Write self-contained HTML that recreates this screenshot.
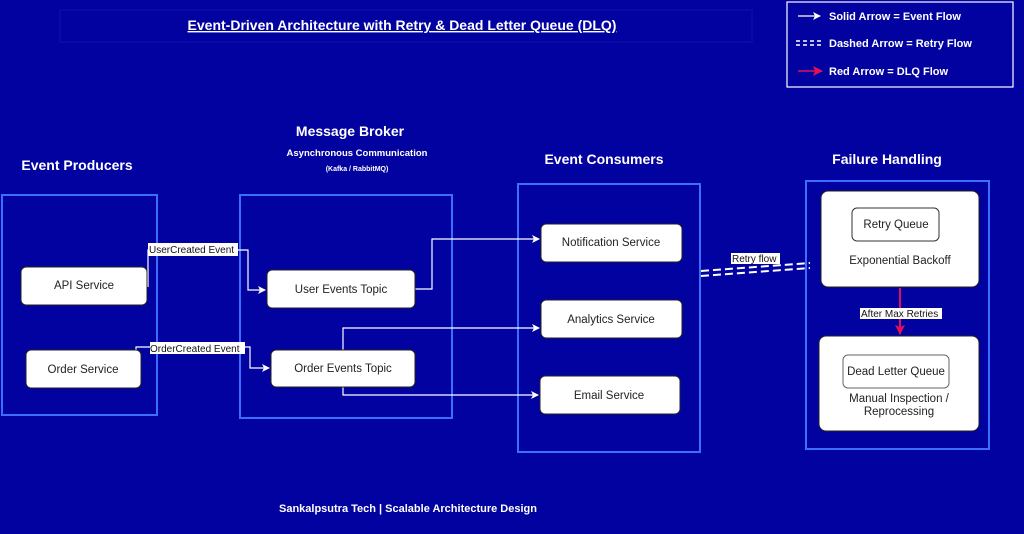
<!DOCTYPE html>
<html><head><meta charset="utf-8"><style>
html,body{margin:0;padding:0;background:#0202a0;}
svg{display:block;font-family:"Liberation Sans",Arial,sans-serif;}
.c{fill:none;stroke:#3d6dff;stroke-width:2}
.n{fill:#fff;stroke:#222;stroke-width:1}
.t{fill:#222;font-size:11.5px;text-anchor:middle}
.h{fill:#fff;font-weight:bold;text-anchor:middle}
.l{stroke:#fff;stroke-width:1.2;fill:none}
.lb{fill:#fff}
.lt{fill:#111;font-size:10px}
</style></head><body>
<svg width="1024" height="534" viewBox="0 0 1024 534">
<defs>
<marker id="a" markerWidth="8" markerHeight="8" refX="7" refY="4" orient="auto" markerUnits="userSpaceOnUse"><path d="M0,0 L8,4 L0,8 L2,4z" fill="#fff"/></marker>
<marker id="r" markerWidth="10" markerHeight="10" refX="9" refY="5" orient="auto" markerUnits="userSpaceOnUse"><path d="M0,0 L10,5 L0,10 L2,5z" fill="#e0105a"/></marker>
</defs>
<rect width="1024" height="534" fill="#0202a0"/>
<!-- title -->
<rect x="60" y="10" width="692" height="32" fill="none" stroke="#1010b0" stroke-width="1"/>
<text x="402" y="30" class="h" font-size="14" text-decoration="underline">Event-Driven Architecture with Retry &amp; Dead Letter Queue (DLQ)</text>
<!-- legend -->
<rect x="787" y="2" width="226" height="85" fill="none" stroke="#fff" stroke-width="1.2"/>
<line x1="798" y1="16" x2="820" y2="16" class="l" marker-end="url(#a)"/>
<text x="829" y="20" fill="#fff" font-size="11" font-weight="bold">Solid Arrow = Event Flow</text>
<line x1="796" y1="41" x2="822" y2="41" stroke="#fff" stroke-width="1.5" stroke-dasharray="4,3"/>
<line x1="796" y1="45" x2="822" y2="45" stroke="#fff" stroke-width="1.5" stroke-dasharray="4,3"/>
<text x="829" y="47" fill="#fff" font-size="11" font-weight="bold">Dashed Arrow = Retry Flow</text>
<line x1="798" y1="71" x2="822" y2="71" stroke="#e0105a" stroke-width="1.5" marker-end="url(#r)"/>
<text x="829" y="75" fill="#fff" font-size="11" font-weight="bold">Red Arrow = DLQ Flow</text>
<!-- headers -->
<text x="77" y="170" class="h" font-size="14">Event Producers</text>
<text x="350" y="136" class="h" font-size="14">Message Broker</text>
<text x="357" y="156" class="h" font-size="9.5">Asynchronous Communication</text>
<text x="357" y="171" class="h" font-size="7">(Kafka / RabbitMQ)</text>
<text x="604" y="164" class="h" font-size="14">Event Consumers</text>
<text x="887" y="164" class="h" font-size="14">Failure Handling</text>
<!-- containers -->
<rect x="2" y="195" width="155" height="220" class="c"/>
<rect x="240" y="195" width="212" height="223" class="c"/>
<rect x="518" y="184" width="182" height="268" class="c"/>
<rect x="806" y="181" width="183" height="268" class="c"/>
<!-- connectors -->
<polyline points="148,287 148,250 248,250 248,290 265,290" class="l" marker-end="url(#a)"/>
<polyline points="136,350 136,347 250,347 250,368 269,368" class="l" marker-end="url(#a)"/>
<polyline points="415,289 432,289 432,239 539,239" class="l" marker-end="url(#a)"/>
<polyline points="343,350 343,328 539,328" class="l" marker-end="url(#a)"/>
<polyline points="343,386 343,395 538,395" class="l" marker-end="url(#a)"/>
<line x1="701" y1="271" x2="810" y2="263" stroke="#fff" stroke-width="2" stroke-dasharray="8,4"/>
<line x1="701" y1="276" x2="810" y2="268" stroke="#fff" stroke-width="2" stroke-dasharray="8,4"/>
<line x1="900" y1="288" x2="900" y2="334" stroke="#e0105a" stroke-width="2" marker-end="url(#r)"/>
<!-- labels -->
<rect x="148" y="243" width="90" height="13" class="lb"/><text x="149" y="253" class="lt">UserCreated Event</text>
<rect x="150" y="342" width="95" height="12" class="lb"/><text x="150" y="352" class="lt">OrderCreated Event</text>
<rect x="731" y="253" width="49" height="11" class="lb"/><text x="732" y="262" class="lt">Retry flow</text>
<rect x="860" y="308" width="82" height="11" class="lb"/><text x="861" y="317" class="lt">After Max Retries</text>
<!-- nodes -->
<rect x="21" y="267" width="126" height="38" rx="5" class="n"/><text x="84" y="289" class="t">API Service</text>
<rect x="26" y="350" width="115" height="38" rx="5" class="n"/><text x="83" y="373" class="t">Order Service</text>
<rect x="267" y="270" width="148" height="38" rx="5" class="n"/><text x="341" y="293" class="t">User Events Topic</text>
<rect x="271" y="350" width="144" height="37" rx="5" class="n"/><text x="343" y="372" class="t">Order Events Topic</text>
<rect x="541" y="224" width="141" height="38" rx="5" class="n"/><text x="611" y="246" class="t">Notification Service</text>
<rect x="541" y="300" width="141" height="38" rx="5" class="n"/><text x="611" y="323" class="t">Analytics Service</text>
<rect x="540" y="376" width="140" height="38" rx="5" class="n"/><text x="609" y="399" class="t">Email Service</text>
<rect x="821" y="191" width="158" height="96" rx="7" class="n" stroke-width="2"/>
<rect x="852" y="208" width="87" height="33" rx="5" fill="#fff" stroke="#333"/>
<text x="896" y="228" class="t">Retry Queue</text>
<text x="900" y="264" class="t">Exponential Backoff</text>
<rect x="819" y="336" width="160" height="95" rx="7" class="n" stroke-width="2"/>
<rect x="843" y="355" width="106" height="33" rx="5" fill="#fff" stroke="#666"/>
<text x="896" y="375" class="t">Dead Letter Queue</text>
<text x="899" y="402" class="t">Manual Inspection /</text>
<text x="899" y="415" class="t">Reprocessing</text>
<!-- footer -->
<text x="408" y="512" class="h" font-size="11">Sankalpsutra Tech | Scalable Architecture Design</text>
</svg>
</body></html>
